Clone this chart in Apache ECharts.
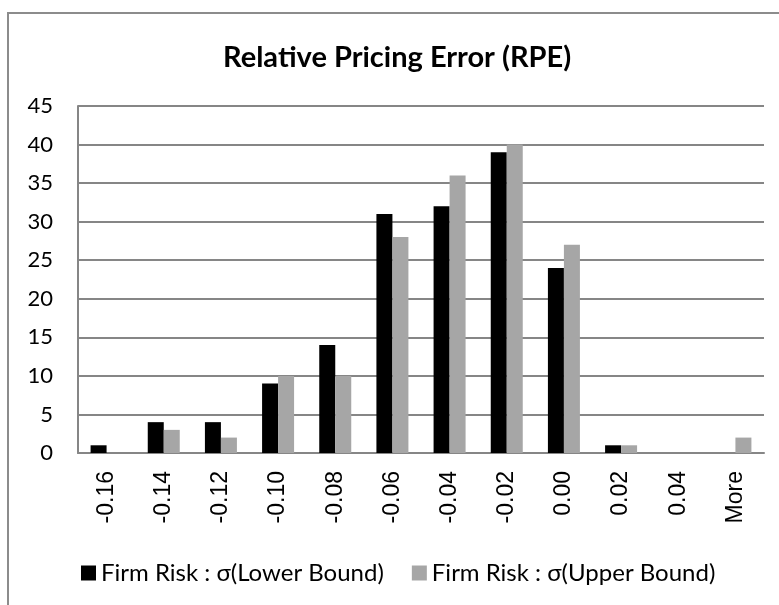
<!DOCTYPE html>
<html>
<head>
<meta charset="utf-8">
<title>Relative Pricing Error (RPE)</title>
<script src="https://cdn.jsdelivr.net/npm/echarts@6/dist/echarts.min.js"></script>
<style>
  html, body { margin: 0; padding: 0; background: #fff; }
  #chart { width: 779px; height: 605px; }
</style>
</head>
<body>
<div id="chart"></div>
<script type="text/javascript">
  // 数据
  var categories = ['-0.16', '-0.14', '-0.12', '-0.10', '-0.08', '-0.06', '-0.04', '-0.02', '0.00', '0.02', '0.04', 'More'];
  var lowerBound = [1, 4, 4, 9, 14, 31, 32, 39, 24, 1, 0, 0];
  var upperBound = [0, 3, 2, 10, 10, 28, 36, 40, 27, 1, 0, 2];
  var seriesNames = ['Firm Risk : σ(Lower Bound)', 'Firm Risk : σ(Upper Bound)'];

  var myChart = echarts.init(document.getElementById('chart'));
  var option = {
    backgroundColor: '#fff',
    color: ['#000000', '#a6a6a6'],
    title: {
      text: 'Relative Pricing Error (RPE)',
      left: 218,
      top: 38,
      textStyle: { fontFamily: 'Lato', fontWeight: 'bold', fontSize: 29, color: '#000' }
    },
    legend: {
      bottom: 15,
      left: 76,
      itemWidth: 15,
      itemHeight: 15,
      itemGap: 28,
      icon: 'rect',
      textStyle: { fontFamily: 'Lato', fontSize: 24, color: '#000' },
      data: seriesNames
    },
    graphic: [{
      type: 'rect',
      shape: { x: 8, y: 13, width: 800, height: 620 },
      style: { fill: 'none', stroke: '#8c8c8c', lineWidth: 2 },
      silent: true
    }],
    grid: { left: 78, right: 15, top: 106, bottom: 152 },
    xAxis: {
      type: 'category',
      data: categories,
      axisLine: { lineStyle: { color: '#868686', width: 2 } },
      axisTick: { show: false },
      axisLabel: {
        rotate: 90,
        interval: 0,
        margin: 18,
        fontFamily: 'Liberation Sans',
        fontSize: 23,
        color: '#000'
      }
    },
    yAxis: {
      type: 'value',
      min: 0,
      max: 45,
      interval: 5,
      axisLine: { show: true, lineStyle: { color: '#868686', width: 2 } },
      axisTick: { show: false },
      splitLine: { lineStyle: { color: '#868686', width: 2 } },
      axisLabel: { fontFamily: 'Lato', fontSize: 22, color: '#000', margin: 25 }
    },
    series: [
      { name: seriesNames[0], type: 'bar', data: lowerBound, barWidth: 16, barGap: '0%' },
      { name: seriesNames[1], type: 'bar', data: upperBound, barWidth: 16, barGap: '0%' }
    ]
  };
  myChart.setOption(option);
</script>
</body>
</html>
